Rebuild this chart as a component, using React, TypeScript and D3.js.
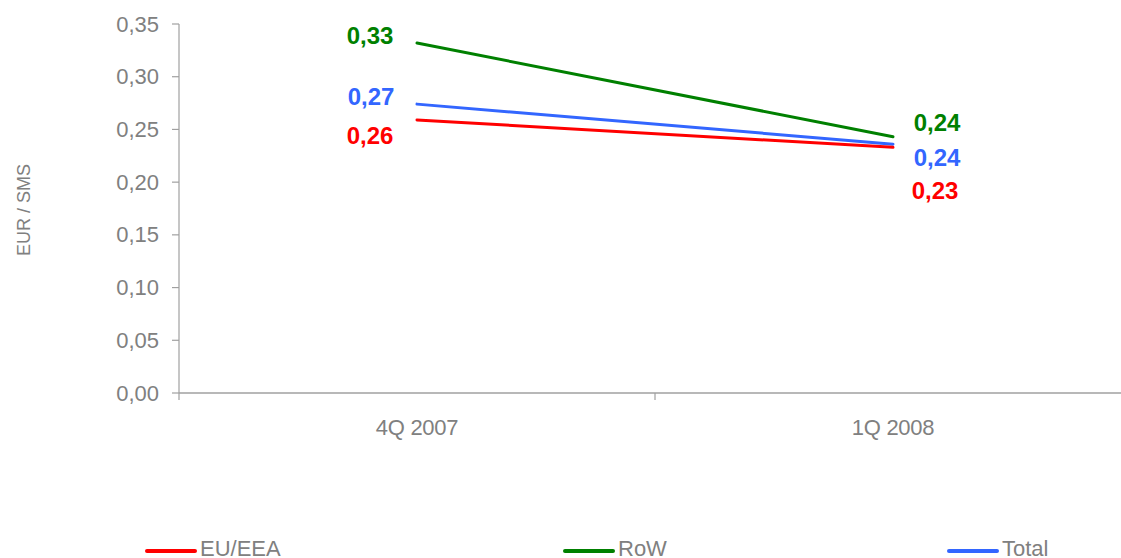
import React from "react";
import * as d3 from "d3";

const categories = ["4Q 2007", "1Q 2008"];
const seriesNames = ["EU/EEA", "RoW", "Total"];
const euEea = [0.259, 0.233];
const row = [0.332, 0.243];
const total = [0.274, 0.236];
const yTicks = [0, 0.05, 0.1, 0.15, 0.2, 0.25, 0.3, 0.35];

const colors = ["#ff0000", "#008000", "#3366ff"];
// label offsets (px) relative to each point, per series
const labelOffsets = [
  [[-47, 16], [42, 43]],
  [[-47, -7], [44, -14]],
  [[-46, -8], [44, 13]],
];
const legendX = [147, 565, 949];

const W = 1121;
const H = 558;
const FONT = "'Liberation Sans', Arial, sans-serif";
const GRAY = "#808080";
const AXIS = "#a0a0a0";

export default function App() {
  const values = [euEea, row, total];
  const x = d3.scaleBand<string>().domain(categories).range([179, 1131]).padding(0);
  const y = d3.scaleLinear().domain([0, 0.35]).range([393, 24]);
  const cx = (c: string) => (x(c) as number) + x.bandwidth() / 2;
  const fmt = (v: number) => d3.format(".2f")(v).replace(".", ",");
  const line = d3
    .line<number>()
    .x((_, i) => cx(categories[i]))
    .y((d) => y(d));
  const order = [1, 2, 0];

  return (
    <svg
      width={W}
      height={H}
      style={{ position: "absolute", left: 0, top: 0, fontFamily: FONT }}
    >
      <rect width={W} height={H} fill="#fff" />
      {/* y axis */}
      <line x1={179} x2={179} y1={y(0.35)} y2={400} stroke={AXIS} strokeWidth={1.2} />
      {yTicks.map((t) => (
        <g key={t}>
          <line x1={172} x2={179} y1={y(t)} y2={y(t)} stroke={AXIS} strokeWidth={1.2} />
          <text
            x={159}
            y={y(t)}
            textAnchor="end"
            dominantBaseline="central"
            fontSize={22}
            fill={GRAY}
          >
            {fmt(t)}
          </text>
        </g>
      ))}
      {/* x axis */}
      <line x1={179} x2={1131} y1={y(0)} y2={y(0)} stroke={AXIS} strokeWidth={1.5} />
      {categories.map((c, i) =>
        i > 0 ? (
          <line
            key={"t" + c}
            x1={x(c) as number}
            x2={x(c) as number}
            y1={y(0)}
            y2={400}
            stroke={AXIS}
            strokeWidth={1.2}
          />
        ) : null
      )}
      {categories.map((c) => (
        <text
          key={c}
          x={cx(c)}
          y={427}
          textAnchor="middle"
          dominantBaseline="central"
          fontSize={22}
          fill={GRAY}
          letterSpacing={-0.3}
        >
          {c}
        </text>
      ))}
      <text
        transform={`translate(24,210) rotate(-90)`}
        textAnchor="middle"
        dominantBaseline="central"
        fontSize={18}
        fill={GRAY}
      >
        EUR / SMS
      </text>
      {/* lines */}
      {order.map((s) => (
        <path
          key={"l" + s}
          d={line(values[s]) as string}
          fill="none"
          stroke={colors[s]}
          strokeWidth={3}
          strokeLinecap="round"
        />
      ))}
      {/* labels */}
      {values.map((vals, s) =>
        vals.map((v, i) => (
          <text
            key={"d" + s + "-" + i}
            x={cx(categories[i]) + labelOffsets[s][i][0]}
            y={y(v) + labelOffsets[s][i][1]}
            textAnchor="middle"
            dominantBaseline="central"
            fontSize={24}
            fontWeight="bold"
            fill={colors[s]}
          >
            {fmt(v)}
          </text>
        ))
      )}
      {/* legend */}
      {seriesNames.map((n, s) => (
        <g key={n}>
          <line
            x1={legendX[s]}
            x2={legendX[s] + 48}
            y1={551}
            y2={551}
            stroke={colors[s]}
            strokeWidth={4}
            strokeLinecap="round"
          />
          <text x={legendX[s] + 53} y={556} fontSize={22} fill={GRAY}>
            {n}
          </text>
        </g>
      ))}
    </svg>
  );
}
